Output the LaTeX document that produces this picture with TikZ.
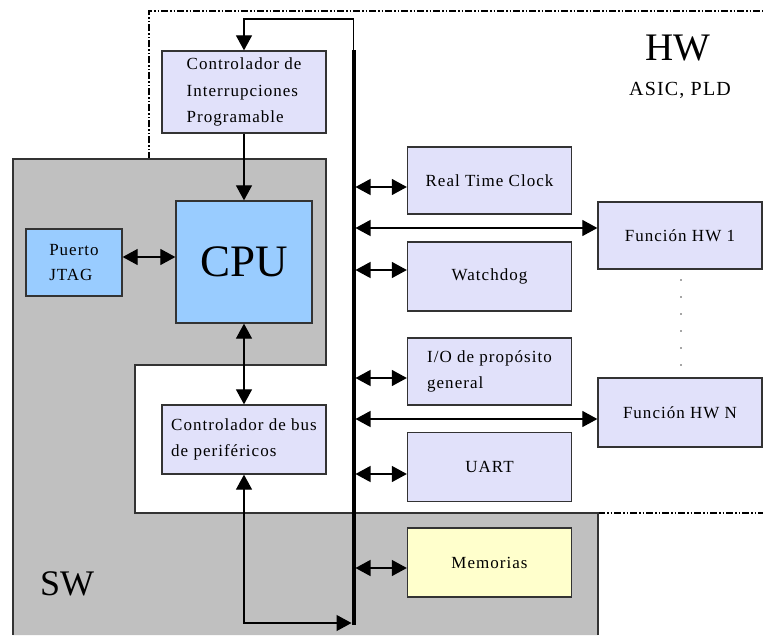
\documentclass[tikz,border=0pt]{standalone}
\usepackage{fontspec}
\setmainfont{Liberation Serif}
\newfontfamily\boxfont[LetterSpace=6]{Liberation Serif}
\usetikzlibrary{arrows.meta,calc}

\definecolor{lavender}{HTML}{E1E1FA}
\definecolor{cpublue}{HTML}{99CCFF}
\definecolor{memyellow}{HTML}{FFFFCC}
\definecolor{swgray}{HTML}{C0C0C0}
\definecolor{edgegray}{HTML}{333333}

\tikzset{
  block/.style={draw=edgegray, line width=1.3pt, fill=lavender, inner sep=0pt,
    font=\boxfont\fontsize{17}{26.5}\selectfont, align=left},
  conn/.style={line width=1.2pt, draw=black},
  arr/.style={conn, -{Triangle[length=15pt,width=16pt]}},
  biarr/.style={conn, {Triangle[length=15pt,width=16pt]}-{Triangle[length=15pt,width=16pt]}},
  bus/.style={line width=4pt},
  hwzone/.style={line width=1.3pt, dash pattern=on 7pt off 2pt on 1.5pt off 2pt on 1.5pt off 2pt}
}

\begin{document}
\begin{tikzpicture}[x=1pt,y=-1pt]
\useasboundingbox (0,0) rectangle (763,635);
\fill[white] (0,0) rectangle (763,635);

% zona HW
\draw[hwzone] (149,159) -- (149,11) -- (763,11);
\draw[hwzone] (598,513) -- (763,513);

% zona SW
\fill[swgray] (13,159) -- (326,159) -- (326,365) -- (135,365) -- (135,513)
  -- (598,513) -- (598,635) -- (13,635) -- cycle;
\draw[edgegray, line width=1.3pt] (13,635) -- (13,159) -- (326,159) -- (326,365)
  -- (135,365) -- (135,513) -- (598,513) -- (598,635);

\node[anchor=base, font=\fontsize{39}{39}\selectfont] (hw) at (678,60) {HW};
\node[anchor=base, font=\boxfont\fontsize{20}{20}\selectfont] (asic) at (680,95) {ASIC, PLD};
\node[anchor=base west, inner sep=0pt, font=\fontsize{36}{36}\selectfont] (sw) at (40,595) {SW};

% bloques
\node[block, minimum width=164pt, minimum height=82pt] (irq) at (244,92)
  {Controlador de\\Interrupciones\\Programable};
\node[block, fill=cpublue, minimum width=136pt, minimum height=122pt,
  font=\fontsize{45}{45}\selectfont] (cpu) at (244,262) {CPU};
\node[block, fill=cpublue, minimum width=96pt, minimum height=67pt,
  font=\boxfont\fontsize{17}{25}\selectfont] (jtag) at (74,262.5) {Puerto\\JTAG};
\node[block, minimum width=164pt, minimum height=69pt] (pbus) at (244,439.5)
  {Controlador de bus\\de periféricos};

\node[block, minimum width=164pt, minimum height=67pt] (rtc) at (489.5,180.5) {Real Time Clock};
\node[block, minimum width=164pt, minimum height=69pt] (wdog) at (489.5,276.5) {Watchdog};
\node[block, minimum width=164pt, minimum height=67pt] (gpio) at (489.5,371.5)
  {I/O de propósito\\general};
\node[block, minimum width=164pt, minimum height=69pt] (uart) at (489.5,467) {UART};
\node[block, fill=memyellow, minimum width=164pt, minimum height=69pt] (mem) at (489.5,562.5) {Memorias};

\node[block, minimum width=164pt, minimum height=67pt] (f1) at (680,235.5) {Función HW 1};
\node[block, minimum width=164pt, minimum height=69pt] (fn) at (680,412.5) {Función HW N};

\foreach \y in {280,297,...,366}
  \fill[black!70] (681,\y) circle (0.9);

% bus
\coordinate (bustop) at (353.5,50);
\coordinate (busend) at (353.5,625);
\coordinate (irqtap) at (353.5,19);
\coordinate (busin) at (351.5,623);
\coordinate (busedge) at (355.5,0);
\draw[bus] (bustop) -- (busend);

% conexiones
\draw[arr] (bustop) -- (irqtap) -| (irq.north);
\draw[arr] (irq.south) -- (cpu.north);
\draw[biarr] ($(jtag.east)+(0,-5.5)$) -- ($(cpu.west |- jtag.east)+(0,-5.5)$);
\draw[biarr] (cpu.south) -- (pbus.north);
\draw[biarr] (pbus.south) |- (busin);

\draw[biarr] ($(rtc.west -| busedge)+(0,6.5)$) -- ($(rtc.west)+(0,6.5)$);
\draw[biarr] ($(f1.west -| busedge)+(0,-7.5)$) -- ($(f1.west)+(0,-7.5)$);
\draw[biarr] ($(wdog.west -| busedge)+(0,-6.5)$) -- ($(wdog.west)+(0,-6.5)$);
\draw[biarr] ($(gpio.west -| busedge)+(0,6.5)$) -- ($(gpio.west)+(0,6.5)$);
\draw[biarr] ($(fn.west -| busedge)+(0,6.5)$) -- ($(fn.west)+(0,6.5)$);
\draw[biarr] ($(uart.west -| busedge)+(0,7)$) -- ($(uart.west)+(0,7)$);
\draw[biarr] ($(mem.west -| busedge)+(0,5.5)$) -- ($(mem.west)+(0,5.5)$);
\end{tikzpicture}
\end{document}
